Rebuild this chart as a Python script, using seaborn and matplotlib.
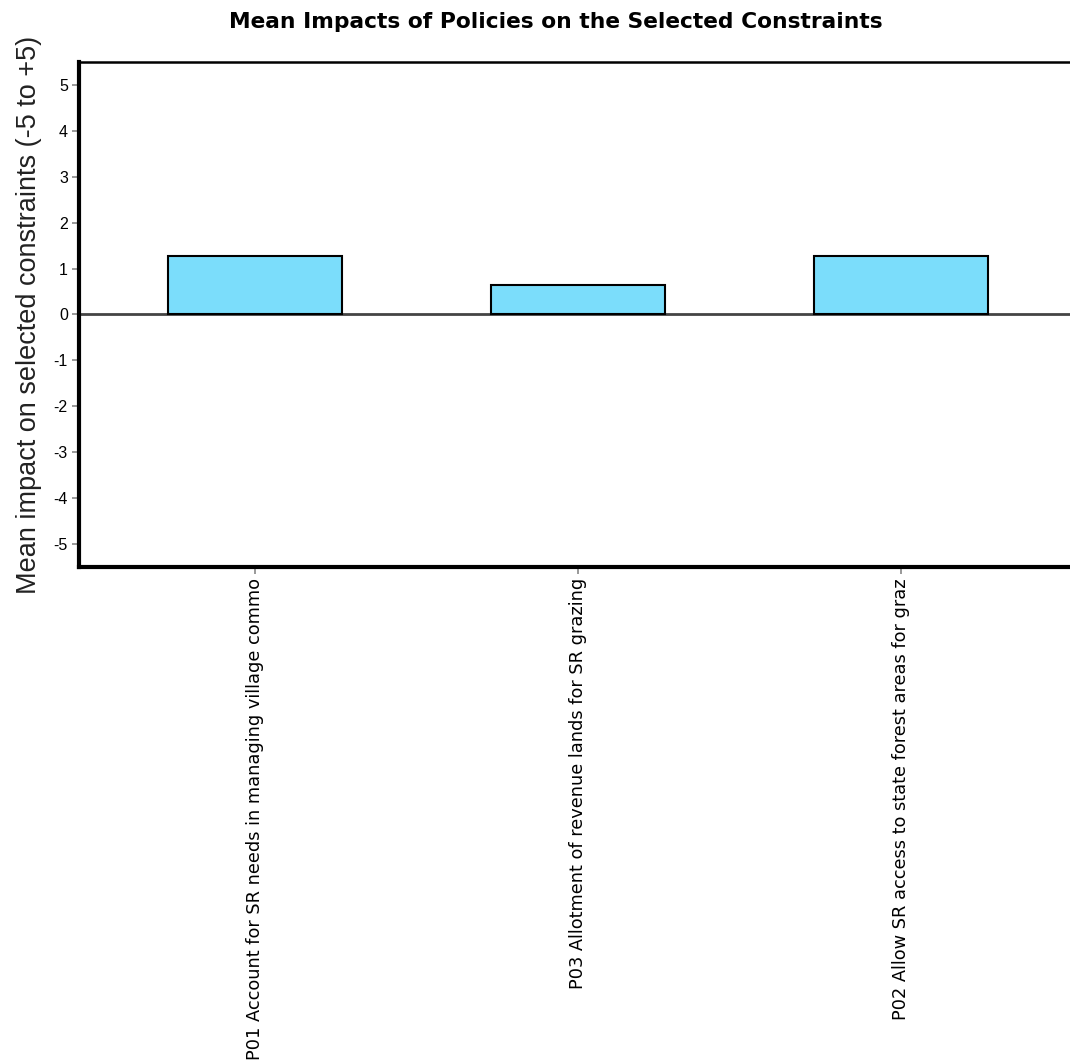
import pandas as pd
import matplotlib.pyplot as plt
import seaborn as sns

# Dados
policies = [
    "P01 Account for SR needs in managing village commo",
    "P03 Allotment of revenue lands for SR grazing",
    "P02 Allow SR access to state forest areas for graz",
]
mean_impact = [1.27, 0.64, 1.27]
y_ticks = [-5, -4, -3, -2, -1, 0, 1, 2, 3, 4, 5]

sns.set_theme(style="white")
plt.rcParams["font.family"] = ["Liberation Sans", "DejaVu Sans"]
plt.rcParams["text.color"] = "black"
plt.rcParams["axes.labelcolor"] = "#222222"
plt.rcParams["xtick.color"] = "#888888"
plt.rcParams["ytick.color"] = "#888888"
plt.rcParams["xtick.labelcolor"] = "black"
plt.rcParams["ytick.labelcolor"] = "black"

df = pd.DataFrame({"policy": policies, "impact": mean_impact})

fig = plt.figure(figsize=(10.70, 10.63), dpi=100)
ax = fig.add_axes([0.0738, 0.4666, 0.9327, 0.4751])

sns.barplot(data=df, x="policy", y="impact", ax=ax, color="#7BDDFB",
            saturation=1, width=0.54, edgecolor="black", linewidth=1.5)

ax.axhline(0, color="#444444", linewidth=2, zorder=0.5)
ax.set_ylim(-5.5, 5.5)
ax.set_xlim(-0.545, 2.545)
ax.set_yticks(y_ticks)
ax.set_yticklabels([str(t) for t in y_ticks], fontsize=11.5)
ax.tick_params(axis="both", which="major", length=5, width=1.2,
               direction="out", left=True, bottom=True, pad=3)
ax.tick_params(axis="x", labelrotation=90)
for lbl in ax.get_xticklabels():
    lbl.set_va("top")
    lbl.set_ha("center")
    lbl.set_family(["DejaVu Sans"])
    lbl.set_fontsize(12.8)

for side in ["left", "bottom"]:
    ax.spines[side].set_linewidth(3)
    ax.spines[side].set_color("black")
ax.spines["top"].set_linewidth(1.8)
ax.spines["top"].set_color("black")
ax.spines["right"].set_visible(False)

ax.set_xlabel("")
ax.set_ylabel("Mean impact on selected constraints (-5 to +5)", fontsize=19.5,
              labelpad=8)
fig.text(0.5196, 0.979, "Mean Impacts of Policies on the Selected Constraints",
         ha="center", va="center", fontsize=15.7, fontweight="bold",
         family=["DejaVu Sans"])

fig.savefig("out.png", dpi=100)
plt.close(fig)
